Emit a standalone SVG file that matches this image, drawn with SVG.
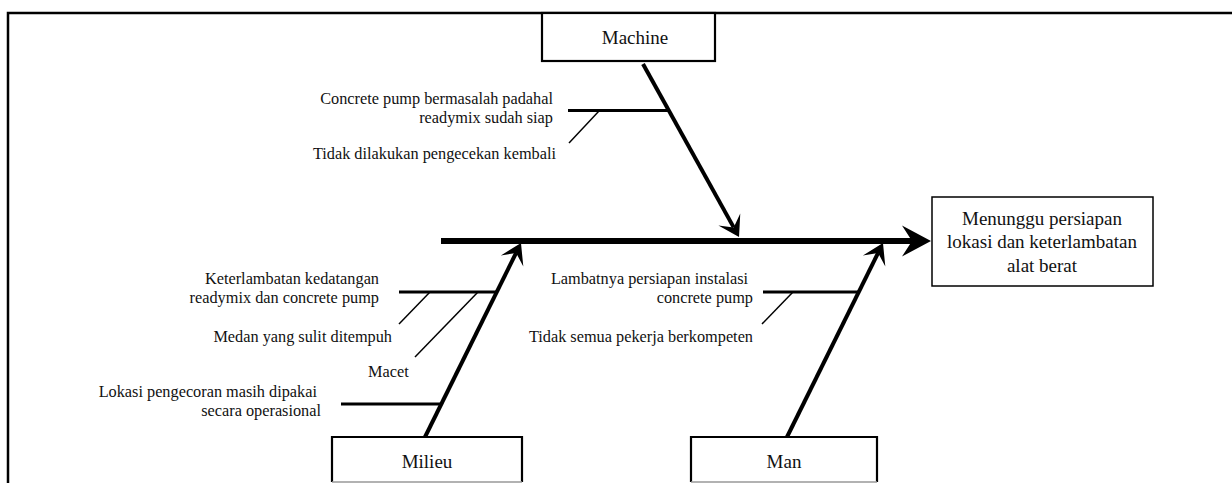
<svg xmlns="http://www.w3.org/2000/svg" width="1232" height="483" viewBox="0 0 1232 483">
<style>
.frame{fill:none;stroke:#000;stroke-width:2.5}
.box{fill:#fff;stroke:#000;stroke-width:2.2}
.effect{fill:#fff;stroke:#000;stroke-width:1.5}
.lbl{font-family:"Liberation Serif","Times New Roman",serif;font-size:19px;fill:#111;text-anchor:middle}
.sub{font-family:"Liberation Serif","Times New Roman",serif;font-size:16.3px;fill:#111;text-anchor:end}
.subs{font-family:"Liberation Serif","Times New Roman",serif;font-size:16.3px;fill:#111;text-anchor:start}
.spine{stroke:#000;stroke-width:6;fill:none}
.bone{stroke:#000;stroke-width:4;fill:none}
.branch{stroke:#000;stroke-width:3;fill:none}
.thin{stroke:#000;stroke-width:1.5;fill:none}
</style>
<defs>
<marker id="bigArrow" markerUnits="userSpaceOnUse" viewBox="-25 -17 45 34" markerWidth="45" markerHeight="34" refX="0" refY="0" orient="auto">
<path d="M19,0 L-10,-15.5 L0,0 L-10,15.5 Z" fill="#000"/>
</marker>
<marker id="boneArrow" markerUnits="userSpaceOnUse" viewBox="-15 -14 30 28" markerWidth="30" markerHeight="28" refX="0" refY="0" orient="auto">
<path d="M11,0 L-9,-12.5 L0,0 L-9,12.5 Z" fill="#000"/>
</marker>
</defs>
<rect x="0" y="0" width="1232" height="483" fill="#fff"/>
<path class="frame" d="M8,483 L8,13 L1232,13"/>

<g id="connectors">
<line class="spine" x1="441" y1="241" x2="912" y2="241" marker-end="url(#bigArrow)"/>
<line class="bone" x1="643" y1="64" x2="733.7" y2="227.4" marker-end="url(#boneArrow)"/>
<line class="bone" x1="425" y1="437" x2="516.1" y2="252.9" marker-end="url(#boneArrow)"/>
<line class="bone" x1="787" y1="437" x2="878.1" y2="252.9" marker-end="url(#boneArrow)"/>
<line class="branch" x1="568" y1="110.5" x2="669" y2="110.5"/>
<line class="thin" x1="599" y1="111" x2="569" y2="143"/>
<line class="branch" x1="399" y1="292" x2="497" y2="292"/>
<line class="thin" x1="430" y1="292" x2="399" y2="324"/>
<line class="thin" x1="478" y1="292" x2="415" y2="357"/>
<line class="branch" x1="341" y1="404" x2="441" y2="404"/>
<line class="branch" x1="763" y1="292" x2="859" y2="292"/>
<line class="thin" x1="793" y1="292" x2="762" y2="324"/>
</g>

<g id="machine">
<rect class="box" x="542" y="13" width="173" height="48"/>
<text class="lbl" x="635" y="44">Machine</text>
<text class="sub" x="553" y="104">Concrete pump bermasalah padahal</text>
<text class="sub" x="553" y="123">readymix sudah siap</text>
<text class="sub" x="556" y="159">Tidak dilakukan pengecekan kembali</text>
</g>

<g id="milieu">
<path class="box" d="M332,482 L332,437 L522,437 L522,482"/>
<line x1="332" y1="482" x2="522" y2="482" stroke="#999" stroke-width="1.5"/>
<text class="lbl" x="427" y="468">Milieu</text>
<text class="sub" x="379" y="284">Keterlambatan kedatangan</text>
<text class="sub" x="379" y="303">readymix dan concrete pump</text>
<text class="sub" x="392" y="342">Medan yang sulit ditempuh</text>
<text class="subs" x="368" y="377">Macet</text>
<text class="sub" x="317" y="397">Lokasi pengecoran masih dipakai</text>
<text class="sub" x="321" y="416">secara operasional</text>
</g>

<g id="man">
<path class="box" d="M691,482 L691,437 L877,437 L877,482"/>
<line x1="691" y1="482" x2="877" y2="482" stroke="#999" stroke-width="1.5"/>
<text class="lbl" x="784" y="468">Man</text>
<text class="sub" x="748" y="284">Lambatnya persiapan instalasi</text>
<text class="sub" x="753" y="303">concrete pump</text>
<text class="sub" x="753" y="342">Tidak semua pekerja berkompeten</text>
</g>

<g id="effect">
<rect class="effect" x="932" y="197" width="221" height="89"/>
<text class="lbl" x="1042" y="225">Menunggu persiapan</text>
<text class="lbl" x="1042" y="248">lokasi dan keterlambatan</text>
<text class="lbl" x="1042" y="272">alat berat</text>
</g>
</svg>
